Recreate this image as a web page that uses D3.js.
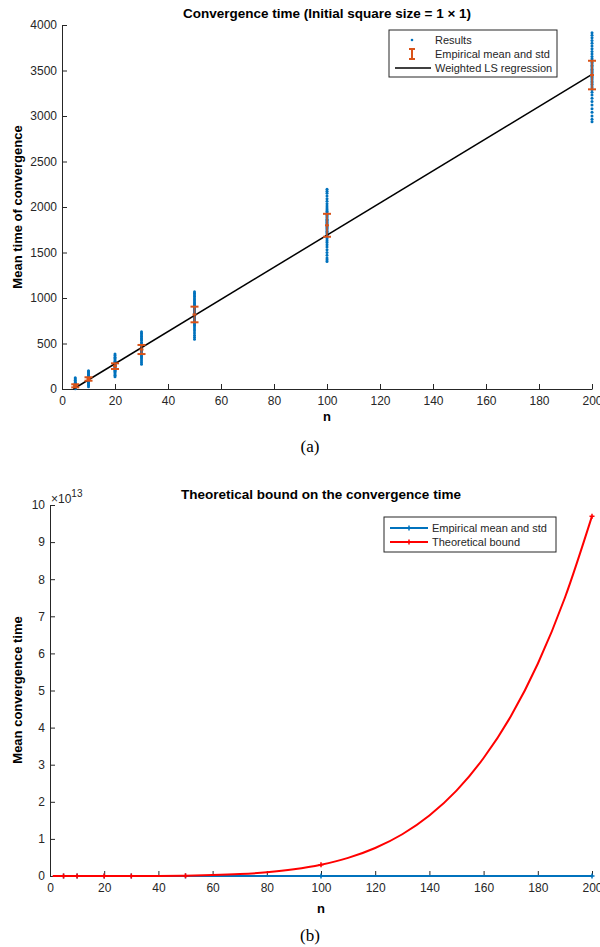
<!DOCTYPE html>
<html>
<head>
<meta charset="utf-8">
<script src="https://cdn.jsdelivr.net/npm/d3@7"></script>
<style>
  body { margin: 0; background: #fff; }
  svg text { font-family: "Liberation Sans", Arial, sans-serif; }
</style>
</head>
<body>
<svg id="chart" width="600" height="947"></svg>
<script>
// sample sizes
const nVals = [5, 10, 20, 30, 50, 100, 200];

// individual run results (convergence time) per n
const results5 = [2, 6, 10, 14, 18, 21, 24, 27, 30, 32, 34, 36, 38, 41, 44, 47, 51, 56, 62, 70, 80, 95, 110, 124];
const results10 = [25, 40, 55, 66, 75, 83, 90, 96, 101, 106, 110, 114, 118, 123, 128, 134, 141, 149, 158, 168, 180, 192, 201];
const results20 = [135, 150, 165, 180, 195, 207, 217, 226, 234, 241, 247, 252, 257, 263, 269, 276, 284, 293, 304, 318, 335, 350, 368, 385];
const results30 = [271, 290, 310, 330, 345, 360, 373, 388, 400, 411, 421, 429, 436, 443, 451, 460, 470, 482, 496, 514, 536, 550, 562, 580, 595, 612, 630];
const results50 = [546, 570, 590, 615, 640, 660, 680, 700, 715, 730, 740, 752, 762, 771, 780, 788, 796, 803, 810, 816, 822, 828, 834, 840, 847, 854, 861, 868, 876, 884, 893, 903, 913, 925, 937, 951, 966, 983, 1000, 1018, 1035, 1052, 1069];
const results100 = [1400, 1420, 1440, 1470, 1500, 1530, 1560, 1585, 1610, 1630, 1650, 1670, 1690, 1705, 1720, 1734, 1748, 1760, 1772, 1784, 1795, 1806, 1818, 1830, 1842, 1854, 1866, 1879, 1892, 1906, 1920, 1936, 1952, 1970, 1990, 2012, 2035, 2062, 2090, 2120, 2150, 2172, 2195];
const results200 = [2937, 2965, 3000, 3040, 3080, 3120, 3160, 3195, 3230, 3260, 3290, 3310, 3330, 3348, 3365, 3380, 3395, 3408, 3422, 3435, 3448, 3461, 3474, 3487, 3500, 3514, 3528, 3543, 3558, 3575, 3592, 3610, 3630, 3655, 3680, 3710, 3740, 3770, 3800, 3830, 3860, 3888, 3915];
const resultsByN = [results5, results10, results20, results30, results50, results100, results200];

// empirical mean and std
const meanVals = [35, 110, 251, 434, 819, 1799, 3450];
const stdVals = [17, 19, 31, 50, 86, 126, 157];

// weighted LS regression line (end points)
const regN = [4.3, 200];
const regT = [0, 3458];

// theoretical bound curve
const boundN = [1, 5, 10, 20, 30, 40, 50, 60, 70, 80, 90, 100, 110, 120, 130, 140, 150, 160, 170, 180, 190, 200];
const boundT = [0, 1e6, 3.0e7, 9.7e8, 7.4e9, 3.1e10, 9.5e10, 2.36e11, 5.09e11, 9.93e11, 1.79e12, 3.03e12, 4.88e12,
                7.54e12, 1.125e13, 1.63e13, 2.30e13, 3.18e13, 4.30e13, 5.72e13, 7.50e13, 9.70e13];

// tick values
const xTicks = [0, 20, 40, 60, 80, 100, 120, 140, 160, 180, 200];
const yTicksTop = [0, 500, 1000, 1500, 2000, 2500, 3000, 3500, 4000];
const yTicksBottom = [0, 1, 2, 3, 4, 5, 6, 7, 8, 9, 10];

const axisColor = "#262626";
const blue = "#0072BD", orange = "#D95319", red = "#FF0000";

const svg = d3.select("#chart");

function styleAxis(g) {
    g.select(".domain").attr("stroke", axisColor).attr("stroke-width", 1);
    g.selectAll(".tick line").attr("stroke", axisColor);
    g.selectAll(".tick text").attr("fill", axisColor).style("font-size", "12px");
}

// ---------- Top chart ----------
const x1 = d3.scaleLinear().domain([0, 200]).range([62, 592]);
const y1 = d3.scaleLinear().domain([0, 4000]).range([389, 25]);

svg.append("g")
    .attr("transform", `translate(0,${y1(0)})`)
    .call(d3.axisBottom(x1).tickValues(xTicks).tickFormat(d3.format("d")).tickSizeInner(-5).tickSizeOuter(0).tickPadding(7))
    .call(styleAxis);

svg.append("g")
    .attr("transform", `translate(${x1(0)},0)`)
    .call(d3.axisLeft(y1).tickValues(yTicksTop).tickFormat(d3.format("d")).tickSizeInner(-5).tickSizeOuter(0).tickPadding(5))
    .call(styleAxis);

// results scatter
const scatter = [];
resultsByN.forEach((arr, i) => arr.forEach(v => scatter.push([nVals[i], v])));
svg.append("g").selectAll("circle")
    .data(scatter)
    .enter()
    .append("circle")
    .attr("cx", d => x1(d[0]))
    .attr("cy", d => y1(d[1]))
    .attr("r", 1.5)
    .attr("fill", blue);

// regression line
svg.append("line")
    .attr("x1", x1(regN[0])).attr("y1", y1(regT[0]))
    .attr("x2", x1(regN[1])).attr("y2", y1(regT[1]))
    .attr("stroke", "#000")
    .attr("stroke-width", 1.5);

// error bars
const eb = svg.append("g").attr("stroke", orange).attr("stroke-width", 2);
nVals.forEach((n, i) => {
    const cx = x1(n);
    const top = y1(meanVals[i] + stdVals[i]);
    const bot = y1(meanVals[i] - stdVals[i]);
    eb.append("line").attr("x1", cx).attr("x2", cx).attr("y1", top).attr("y2", bot).attr("stroke-opacity", 0.75);
    eb.append("line").attr("x1", cx - 4).attr("x2", cx + 4).attr("y1", top).attr("y2", top);
    eb.append("line").attr("x1", cx - 4).attr("x2", cx + 4).attr("y1", bot).attr("y2", bot);
    eb.append("line").attr("x1", cx - 2).attr("x2", cx + 2).attr("y1", y1(meanVals[i])).attr("y2", y1(meanVals[i]));
});

// titles and labels
svg.append("text")
    .attr("x", 327).attr("y", 18)
    .attr("text-anchor", "middle")
    .style("font-size", "13.5px").style("font-weight", "bold")
    .text("Convergence time (Initial square size = 1 \u00d7 1)");

svg.append("text")
    .attr("transform", "translate(22,207) rotate(-90)")
    .attr("text-anchor", "middle")
    .style("font-size", "13px").style("font-weight", "bold")
    .text("Mean time of convergence");

svg.append("text")
    .attr("x", 327).attr("y", 421)
    .attr("text-anchor", "middle")
    .style("font-size", "13px").style("font-weight", "bold")
    .text("n");

svg.append("text")
    .attr("x", 310).attr("y", 452)
    .attr("text-anchor", "middle")
    .style("font-family", "'Liberation Serif', 'DejaVu Serif', serif")
    .style("font-size", "17px")
    .text("(a)");

// legend top
const lg1 = svg.append("g");
lg1.append("rect")
    .attr("x", 389).attr("y", 30).attr("width", 168).attr("height", 47)
    .attr("fill", "#fff").attr("stroke", axisColor).attr("stroke-width", 1);
lg1.append("circle").attr("cx", 412).attr("cy", 40).attr("r", 1.3).attr("fill", blue);
lg1.append("line").attr("x1", 412).attr("x2", 412).attr("y1", 49).attr("y2", 59)
    .attr("stroke", orange).attr("stroke-width", 2);
lg1.append("line").attr("x1", 409).attr("x2", 415).attr("y1", 49).attr("y2", 49)
    .attr("stroke", orange).attr("stroke-width", 2);
lg1.append("line").attr("x1", 409).attr("x2", 415).attr("y1", 59).attr("y2", 59)
    .attr("stroke", orange).attr("stroke-width", 2);
lg1.append("line").attr("x1", 395).attr("x2", 431).attr("y1", 68).attr("y2", 68)
    .attr("stroke", "#000").attr("stroke-width", 1.5);
["Results", "Empirical mean and std", "Weighted LS regression"].forEach((t, i) => {
    lg1.append("text")
        .attr("x", 435).attr("y", 44 + i * 14)
        .style("font-size", "11px").attr("fill", axisColor)
        .text(t);
});

// ---------- Bottom chart ----------
const x2 = d3.scaleLinear().domain([0, 200]).range([50, 592]);
const y2 = d3.scaleLinear().domain([0, 10]).range([876, 505]);
const scale13 = 1e13;

svg.append("g")
    .attr("transform", `translate(0,${y2(0)})`)
    .call(d3.axisBottom(x2).tickValues(xTicks).tickFormat(d3.format("d")).tickSizeInner(-5).tickSizeOuter(0).tickPadding(7))
    .call(styleAxis);

svg.append("g")
    .attr("transform", `translate(${x2(0)},0)`)
    .call(d3.axisLeft(y2).tickValues(yTicksBottom).tickFormat(d3.format("d")).tickSizeInner(-5).tickSizeOuter(0).tickPadding(5))
    .call(styleAxis);

// exponent label
const expText = svg.append("text")
    .attr("x", 51).attr("y", 503)
    .style("font-size", "12px").attr("fill", axisColor);
expText.append("tspan").text("\u00d710");
expText.append("tspan").attr("dy", -6).style("font-size", "10px").text("13");

const line2 = d3.line()
    .x(d => x2(d[0]))
    .y(d => y2(d[1] / scale13));

function plusMarks(g, pts, color) {
    g.selectAll(null)
        .data(pts)
        .enter()
        .append("path")
        .attr("d", d => {
            const px = x2(d[0]), py = y2(d[1] / scale13);
            return `M${px - 2.5},${py}H${px + 2.5}M${px},${py - 2.5}V${py + 2.5}`;
        })
        .attr("stroke", color)
        .attr("stroke-width", 1.5)
        .attr("fill", "none");
}

// empirical mean (blue)
const empPts = nVals.map((n, i) => [n, meanVals[i]]);
const gEmp = svg.append("g");
gEmp.append("path")
    .attr("d", line2(empPts))
    .attr("fill", "none").attr("stroke", blue).attr("stroke-width", 2);
plusMarks(gEmp, empPts, blue);

// theoretical bound (red)
const boundPts = boundN.map((n, i) => [n, boundT[i]]);
const gBound = svg.append("g");
gBound.append("path")
    .attr("d", line2.curve(d3.curveMonotoneX)(boundPts))
    .attr("fill", "none").attr("stroke", red).attr("stroke-width", 2);
plusMarks(gBound, boundPts.filter(d => nVals.includes(d[0])), red);

svg.append("text")
    .attr("x", 321).attr("y", 499)
    .attr("text-anchor", "middle")
    .style("font-size", "13.5px").style("font-weight", "bold")
    .text("Theoretical bound on the convergence time");

svg.append("text")
    .attr("transform", "translate(22,690) rotate(-90)")
    .attr("text-anchor", "middle")
    .style("font-size", "13px").style("font-weight", "bold")
    .text("Mean convergence time");

svg.append("text")
    .attr("x", 321).attr("y", 913)
    .attr("text-anchor", "middle")
    .style("font-size", "13px").style("font-weight", "bold")
    .text("n");

svg.append("text")
    .attr("x", 310).attr("y", 941)
    .attr("text-anchor", "middle")
    .style("font-family", "'Liberation Serif', 'DejaVu Serif', serif")
    .style("font-size", "17px")
    .text("(b)");

// legend bottom
const lg2 = svg.append("g");
lg2.append("rect")
    .attr("x", 384).attr("y", 517).attr("width", 172).attr("height", 35)
    .attr("fill", "#fff").attr("stroke", axisColor).attr("stroke-width", 1);
[[blue, "Empirical mean and std"], [red, "Theoretical bound"]].forEach((d, i) => {
    const yy = 528 + i * 14;
    lg2.append("line").attr("x1", 390).attr("x2", 428).attr("y1", yy).attr("y2", yy)
        .attr("stroke", d[0]).attr("stroke-width", 2);
    lg2.append("path")
        .attr("d", `M${406.5},${yy}H${411.5}M${409},${yy - 2.5}V${yy + 2.5}`)
        .attr("stroke", d[0]).attr("stroke-width", 1.5);
    lg2.append("text")
        .attr("x", 432).attr("y", yy + 4)
        .style("font-size", "11px").attr("fill", axisColor)
        .text(d[1]);
});
</script>
</body>
</html>
